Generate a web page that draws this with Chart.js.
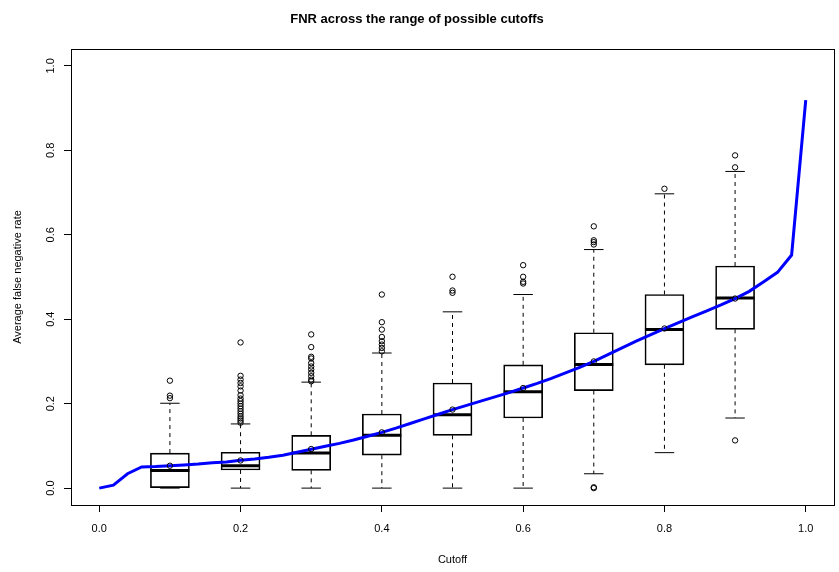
<!DOCTYPE html>
<html>
<head>
<meta charset="utf-8">
<script src="https://cdn.jsdelivr.net/npm/chart.js@4"></script>
<style>
  html, body { margin: 0; padding: 0; background: #fff; overflow: hidden; }
  canvas { display: block; }
</style>
</head>
<body>
<canvas id="myChart" width="839" height="572"></canvas>
<script>
// boxplot summary per cutoff
const boxX = [0.1, 0.2, 0.3, 0.4, 0.5, 0.6, 0.7, 0.8, 0.9];
const whiskerLow = [0, 0, 0, 0, 0, 0, 0.034, 0.084, 0.166];
const q1 = [0, 0.043, 0.042, 0.078, 0.125, 0.166, 0.231, 0.292, 0.376];
const median = [0.042, 0.053, 0.083, 0.125, 0.174, 0.228, 0.2925, 0.3755, 0.4505];
const q3 = [0.083, 0.085, 0.125, 0.1755, 0.249, 0.292, 0.368, 0.4585, 0.526];
const whiskerHigh = [0.201, 0.152, 0.251, 0.320, 0.4175, 0.4585, 0.565, 0.697, 0.750];
const boxMeans = [0.053, 0.0655, 0.0925, 0.132, 0.186, 0.237, 0.300, 0.378, 0.449];
const outliers = [
    [0.2545, 0.219, 0.213],
    [0.345, 0.266, 0.257, 0.249, 0.241, 0.231, 0.220, 0.212, 0.206, 0.200, 0.194, 0.188, 0.182, 0.176, 0.170, 0.165, 0.160, 0.155],
    [0.364, 0.334, 0.311, 0.307, 0.296, 0.288, 0.281, 0.273, 0.265, 0.257, 0.253],
    [0.4585, 0.393, 0.3755, 0.358, 0.348, 0.340, 0.332, 0.324],
    [0.5005, 0.468, 0.4625],
    [0.528, 0.5005, 0.4886, 0.4846],
    [0.620, 0.587, 0.5826, 0.577, 0.002, 0.0],
    [0.709],
    [0.788, 0.7597, 0.113]
];

// average FNR curve
const cutoffs = [0, 0.02, 0.04, 0.06, 0.08, 0.1, 0.12, 0.14, 0.16, 0.18, 0.2, 0.22, 0.24, 0.26, 0.28, 0.3,
    0.32, 0.34, 0.36, 0.38, 0.4, 0.42, 0.44, 0.46, 0.48, 0.5, 0.52, 0.54, 0.56, 0.58, 0.6, 0.62, 0.64,
    0.66, 0.68, 0.7, 0.72, 0.74, 0.76, 0.78, 0.8, 0.82, 0.84, 0.86, 0.88, 0.9, 0.92, 0.94, 0.96, 0.98, 1.0];
const avgFnr = [0, 0.007, 0.034, 0.050, 0.051, 0.053, 0.055, 0.057, 0.060, 0.062, 0.066, 0.069, 0.073, 0.078,
    0.085, 0.092, 0.099, 0.106, 0.114, 0.123, 0.132, 0.142, 0.153, 0.164, 0.175, 0.186, 0.196, 0.206, 0.216,
    0.226, 0.237, 0.248, 0.260, 0.273, 0.286, 0.300, 0.316, 0.332, 0.348, 0.363, 0.378, 0.392, 0.406, 0.420,
    0.434, 0.449, 0.466, 0.488, 0.511, 0.552, 0.919];

const xTicks = [0, 0.2, 0.4, 0.6, 0.8, 1.0];
const yTicks = [0, 0.2, 0.4, 0.6, 0.8, 1.0];

// build datasets
const boxData = boxX.map((x, i) => ({ x: x, y: [q1[i], q3[i]] }));
const medianData = boxX.map((x, i) => ({ x: x, y: median[i] }));
const capData = [];
const whiskerData = [];
boxX.forEach((x, i) => {
    capData.push({ x: x, y: whiskerLow[i] }, { x: x, y: whiskerHigh[i] });
    whiskerData.push({ x: x, y: q3[i] }, { x: x, y: whiskerHigh[i] }, { x: x, y: null });
    whiskerData.push({ x: x, y: q1[i] }, { x: x, y: whiskerLow[i] }, { x: x, y: null });
});
const outlierData = [];
boxX.forEach((x, i) => outliers[i].forEach(v => outlierData.push({ x: x, y: v })));
const meanData = boxX.map((x, i) => ({ x: x, y: boxMeans[i] }));
const lineData = cutoffs.map((c, i) => ({ x: c, y: avgFnr[i] }));

const frame = {
    id: 'frame',
    afterDraw(chart) {
        const a = chart.chartArea;
        const c = chart.ctx;
        c.save();
        c.strokeStyle = '#000';
        c.lineWidth = 1;
        c.strokeRect(Math.round(a.left) + 0.5, Math.round(a.top) + 0.5,
            Math.round(a.right - a.left), Math.round(a.bottom - a.top));
        c.restore();
    }
};

const font = { family: '"Liberation Sans", Arial, sans-serif', size: 11 };

new Chart(document.getElementById('myChart'), {
    type: 'bar',
    plugins: [frame],
    data: {
        datasets: [
            {
                type: 'line', data: lineData, borderColor: '#0000ff', borderWidth: 3,
                pointRadius: 0, tension: 0, fill: false, order: 1
            },
            {
                type: 'scatter', data: meanData, pointStyle: 'circle', pointRadius: 2.7,
                borderColor: '#000', backgroundColor: 'rgba(0,0,0,0)', borderWidth: 1, order: 0
            },
            {
                type: 'scatter', data: medianData, pointStyle: 'line', pointRadius: 19.5,
                borderColor: '#000', borderWidth: 3, order: 2
            },
            {
                type: 'bar', data: boxData, barThickness: 39, borderColor: '#000', borderWidth: 1,
                borderSkipped: false, backgroundColor: 'rgba(255,255,255,0)', order: 3
            },
            {
                type: 'line', data: whiskerData, borderColor: '#000', borderWidth: 1,
                borderDash: [4, 4], pointRadius: 0, spanGaps: false, order: 4
            },
            {
                type: 'scatter', data: capData, pointStyle: 'line', pointRadius: 9.75,
                borderColor: '#000', borderWidth: 1, order: 4
            },
            {
                type: 'scatter', data: outlierData, pointStyle: 'circle', pointRadius: 2.7,
                borderColor: '#000', backgroundColor: 'rgba(0,0,0,0)', borderWidth: 1, order: 4
            }
        ]
    },
    options: {
        responsive: false,
        animation: false,
        // the wide median markers would otherwise make chart.js pad the plot area
        layout: { autoPadding: false, padding: { left: 0, right: 5, top: 0, bottom: 0 } },
        plugins: {
            legend: { display: false },
            tooltip: { enabled: false },
            title: {
                display: true,
                text: 'FNR across the range of possible cutoffs',
                color: '#000',
                font: { family: font.family, size: 13, weight: 'bold' },
                padding: { top: 12, bottom: 21.4 }
            }
        },
        scales: {
            x: {
                type: 'linear', min: -0.04, max: 1.04, offset: false,
                afterBuildTicks: s => { s.ticks = xTicks.map(v => ({ value: v })); },
                afterFit: s => { s.height = 67; s.paddingLeft = 0; s.paddingRight = 0; },
                grid: { offset: false, drawOnChartArea: false, drawTicks: true, tickLength: 7, tickColor: '#000' },
                border: { display: false },
                ticks: { color: '#000', font: font, padding: 10, maxRotation: 0, callback: v => v.toFixed(1) },
                title: { display: true, text: 'Cutoff', color: '#000', font: font, padding: { top: 0, bottom: 5 } }
            },
            y: {
                type: 'linear', min: -0.04, max: 1.04,
                afterBuildTicks: s => { s.ticks = yTicks.map(v => ({ value: v })); },
                afterFit: s => { s.width = 71; s.paddingTop = 0; s.paddingBottom = 0; },
                grid: { drawOnChartArea: false, drawTicks: true, tickLength: 7, tickColor: '#000' },
                border: { display: false },
                ticks: { color: '#000', font: font, padding: 5, minRotation: 90, maxRotation: 90,
                    crossAlign: 'center', callback: v => v.toFixed(1) },
                title: { display: true, text: 'Average false negative rate', color: '#000', font: font,
                    padding: { top: 11, bottom: 0 } }
            }
        }
    }
});
</script>
</body>
</html>
